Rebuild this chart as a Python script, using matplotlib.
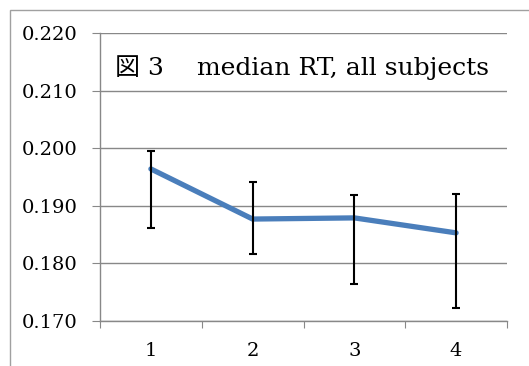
import matplotlib.pyplot as plt
from matplotlib.patches import Rectangle

conditions = [1, 2, 3, 4]
median_rt = [0.1964, 0.1877, 0.1879, 0.1853]
err_top = [0.1996, 0.1941, 0.1918, 0.1921]
err_bottom = [0.1862, 0.1817, 0.1765, 0.1722]

lower = [m - b for m, b in zip(median_rt, err_bottom)]
upper = [t - m for m, t in zip(median_rt, err_top)]

fig = plt.figure(figsize=(5.29, 3.66), dpi=100)
ax = fig.add_axes([100 / 529, 1 - 321 / 366, 407 / 529, 288 / 366])

# outer frame of the chart area
fig.patches.append(Rectangle((10 / 529, -0.1), 1.2, 1 - 10 / 366 + 0.1,
                             transform=fig.transFigure, fill=False,
                             edgecolor='#a0a0a0', linewidth=1.0))

ax.plot(conditions, median_rt, color='#4a7ebb', linewidth=3.8,
        solid_capstyle='round', zorder=3)
ax.errorbar(conditions, median_rt, yerr=[lower, upper], fmt='none',
            ecolor='black', elinewidth=1.5, capsize=3, capthick=1.5, zorder=4)

ax.set_xlim(0.5, 4.5)
ax.set_ylim(0.170, 0.220)
ax.set_yticks([0.170, 0.180, 0.190, 0.200, 0.210, 0.220])
ax.set_yticklabels(['0.170', '0.180', '0.190', '0.200', '0.210', '0.220'],
                   family='DejaVu Serif', fontsize=14)
ax.set_xticks([0.5, 1.5, 2.5, 3.5, 4.5])
ax.set_xticklabels([])
ax.set_xticks(conditions, minor=True)
ax.set_xticklabels([str(c) for c in conditions], minor=True,
                   family='DejaVu Serif', fontsize=14)
ax.tick_params(axis='x', which='major', length=5, color='#888888', direction='out')
ax.tick_params(axis='x', which='minor', length=0, pad=15)
ax.tick_params(axis='y', length=6, color='#888888', pad=10)

ax.grid(axis='y', color='#888888', linewidth=1.0)
ax.set_axisbelow(True)
for s in ['top', 'right']:
    ax.spines[s].set_visible(False)
for s in ['left', 'bottom']:
    ax.spines[s].set_color('#888888')
    ax.spines[s].set_linewidth(1.0)

ax.text(0.036, 0.855, '図 3', transform=ax.transAxes, fontsize=18,
        family=['DejaVu Serif', 'Noto Sans CJK JP'], va='baseline')
ax.text(0.238, 0.855, 'median RT, all subjects', transform=ax.transAxes,
        fontsize=18, family='DejaVu Serif', va='baseline')

fig.savefig('out.png', dpi=100)
